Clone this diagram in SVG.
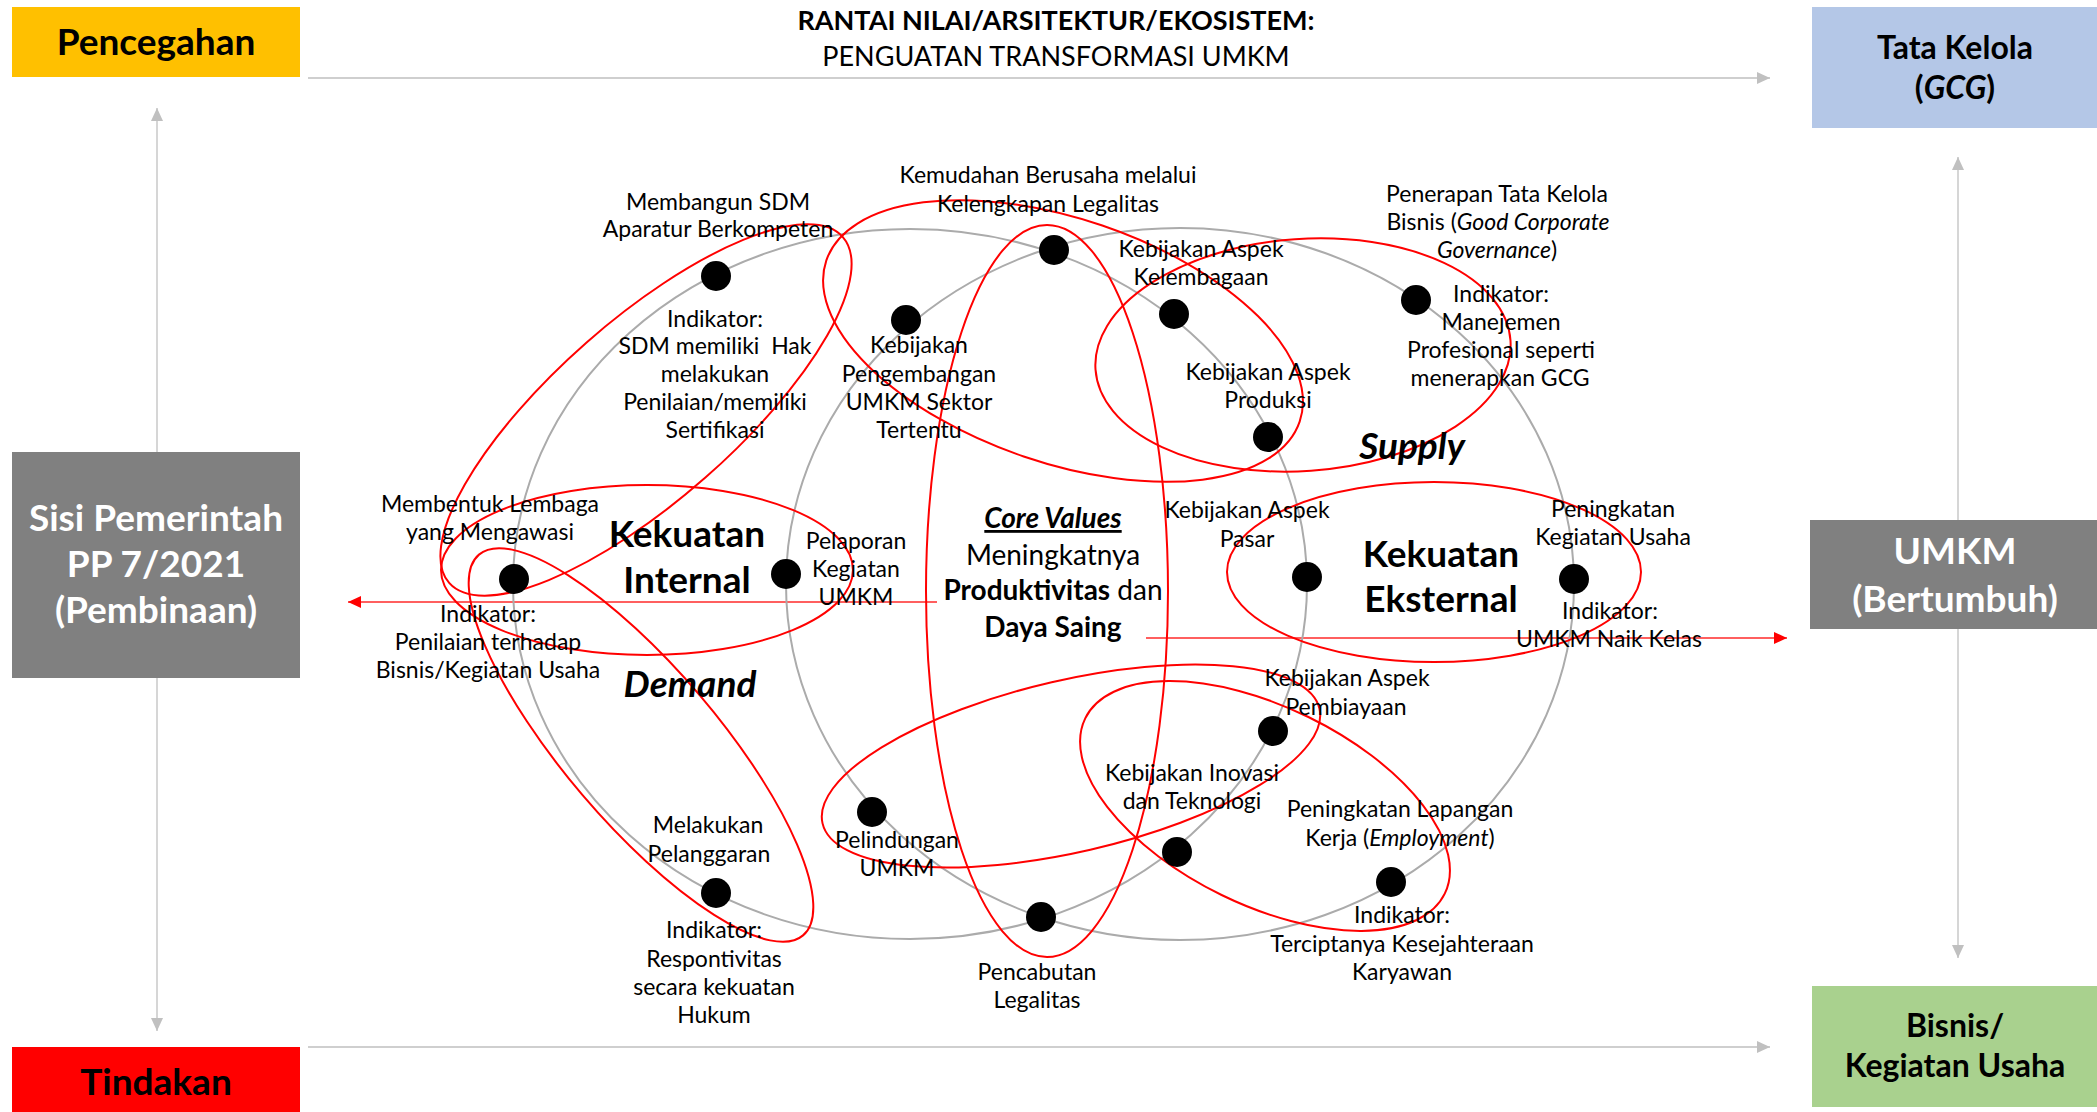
<svg xmlns="http://www.w3.org/2000/svg" width="2097" height="1112" viewBox="0 0 2097 1112">
<defs>
<style>
.t{font-family:Lato,"Liberation Sans",sans-serif;font-size:23px;fill:#000;text-anchor:middle}
.bx{font-family:Lato,"Liberation Sans",sans-serif;font-weight:bold;text-anchor:middle}
.w{fill:#fff}
.k{fill:#000}
.b{font-weight:bold}
.i{font-style:italic}
.big{font-size:37px;font-weight:bold}
.cv{font-size:28px}
.dot{fill:#000}
.ring{fill:none;stroke:#ABABAB;stroke-width:2}
.red{fill:none;stroke:#FF0000;stroke-width:2}
.gl{fill:none;stroke:#CFCFCF;stroke-width:2}
.gv{fill:none;stroke:#C8C8C8;stroke-width:1.5}
.rl{fill:none;stroke:#FF2A2A;stroke-width:1.5}
</style>
<marker id="ga" markerUnits="userSpaceOnUse" markerWidth="14" markerHeight="12" refX="13" refY="6" orient="auto-start-reverse"><path d="M0,0 L13,6 L0,12 z" fill="#C0C0C0"/></marker>
<marker id="ra" markerUnits="userSpaceOnUse" markerWidth="14" markerHeight="12" refX="13" refY="6" orient="auto"><path d="M0,0 L13,6 L0,12 z" fill="#FF0000"/></marker>
</defs>
<rect width="2097" height="1112" fill="#fff"/>

<g id="connectors">
<path class="gl" d="M308,78 H1770" marker-end="url(#ga)"/>
<path class="gl" d="M308,1047 H1770" marker-end="url(#ga)"/>
<path class="gv" d="M157,1031 V108" marker-start="url(#ga)" marker-end="url(#ga)"/>
<path class="gv" d="M1958,958 V157" marker-start="url(#ga)" marker-end="url(#ga)"/>
<path class="rl" d="M937,602 H348" marker-end="url(#ra)"/>
<path class="rl" d="M1146,638 H1787" marker-end="url(#ra)"/>
</g>

<g id="rings">
<ellipse class="ring" cx="910" cy="584" rx="397" ry="355"/>
<ellipse class="ring" cx="1180" cy="584" rx="394" ry="356"/>
</g>

<g id="clusters">
<ellipse class="red" cx="0" cy="0" rx="262" ry="90" transform="translate(646,410) rotate(-41.3)"/>
<ellipse class="red" cx="647" cy="570" rx="206" ry="85"/>
<ellipse class="red" cx="0" cy="0" rx="250" ry="77" transform="translate(641,745) rotate(49.6)"/>
<ellipse class="red" cx="0" cy="0" rx="250" ry="122" transform="translate(1063,341) rotate(18.8)"/>
<ellipse class="red" cx="1047" cy="591" rx="121" ry="366"/>
<ellipse class="red" cx="0" cy="0" rx="208" ry="116" transform="translate(1303,355) rotate(-4)"/>
<ellipse class="red" cx="0" cy="0" rx="255" ry="86" transform="translate(1071,766) rotate(-13)"/>
<ellipse class="red" cx="0" cy="0" rx="200" ry="99" transform="translate(1265,806) rotate(26)"/>
<ellipse class="red" cx="1434" cy="572" rx="207" ry="90"/>
</g>

<g id="title">
<text class="t b" x="1056" y="30" style="font-size:27px">RANTAI NILAI/ARSITEKTUR/EKOSISTEM:</text>
<text class="t" x="1056" y="66" style="font-size:27px">PENGUATAN TRANSFORMASI UMKM</text>
</g>

<g id="box-pencegahan"><rect x="12" y="7" width="288" height="70" fill="#FFC000"/><text class="bx k" x="156" y="55" font-size="37">Pencegahan</text></g>
<g id="box-tatakelola"><rect x="1812" y="7" width="285" height="121" fill="#B4C7E7"/><text class="bx k" x="1955" y="59" font-size="32">Tata Kelola</text><text class="bx k" x="1955" y="99" font-size="32">(<tspan class="i">GCG</tspan>)</text></g>
<g id="box-sisi"><rect x="12" y="452" width="288" height="226" fill="#808080"/><text class="bx w" x="156" y="531" font-size="37">Sisi Pemerintah</text><text class="bx w" x="156" y="577" font-size="37">PP 7/2021</text><text class="bx w" x="156" y="623" font-size="37">(Pembinaan)</text></g>
<g id="box-umkm"><rect x="1810" y="520" width="287" height="109" fill="#808080"/><text class="bx w" x="1955" y="564" font-size="37">UMKM</text><text class="bx w" x="1955" y="612" font-size="37">(Bertumbuh)</text></g>
<g id="box-tindakan"><rect x="12" y="1047" width="288" height="65" fill="#FF0000"/><text class="bx k" x="156" y="1095" font-size="37">Tindakan</text></g>
<g id="box-bisnis"><rect x="1812" y="986" width="285" height="121" fill="#A9D18E"/><text class="bx k" x="1955" y="1037" font-size="32">Bisnis/</text><text class="bx k" x="1955" y="1077" font-size="32">Kegiatan Usaha</text></g>

<g id="labels">
<text class="t big" x="687" y="547">Kekuatan</text>
<text class="t big" x="687" y="593">Internal</text>
<text class="t big i" x="690" y="697">Demand</text>
<text class="t big i" x="1412" y="459">Supply</text>
<text class="t big" x="1441" y="567">Kekuatan</text>
<text class="t big" x="1441" y="612">Eksternal</text>
</g>

<g id="core-values">
<text class="t cv b i" x="1053" y="528" text-decoration="underline">Core Values</text>
<text class="t cv" x="1053" y="565">Meningkatnya</text>
<text class="t cv" x="1053" y="600"><tspan class="b">Produktivitas</tspan> dan</text>
<text class="t cv b" x="1053" y="637">Daya Saing</text>
</g>

<g id="n-sdm"><circle class="dot" cx="716" cy="276" r="15"/>
<text class="t" x="718" y="210">Membangun SDM</text><text class="t" x="718" y="237">Aparatur Berkompeten</text>
<text class="t" x="715" y="327">Indikator:</text><text class="t" x="715" y="354" xml:space="preserve">SDM memiliki  Hak</text><text class="t" x="715" y="382">melakukan</text><text class="t" x="715" y="410">Penilaian/memiliki</text><text class="t" x="715" y="438">Sertifikasi</text></g>

<g id="n-kemudahan"><circle class="dot" cx="1054" cy="250" r="15"/>
<text class="t" x="1048" y="183">Kemudahan Berusaha melalui</text><text class="t" x="1048" y="212">Kelengkapan Legalitas</text></g>

<g id="n-pengembangan"><circle class="dot" cx="906" cy="320" r="15"/>
<text class="t" x="919" y="353">Kebijakan</text><text class="t" x="919" y="382">Pengembangan</text><text class="t" x="919" y="410">UMKM Sektor</text><text class="t" x="919" y="438">Tertentu</text></g>

<g id="n-kelembagaan"><circle class="dot" cx="1174" cy="314" r="15"/>
<text class="t" x="1201" y="257">Kebijakan Aspek</text><text class="t" x="1201" y="285">Kelembagaan</text></g>

<g id="n-produksi"><circle class="dot" cx="1268" cy="437" r="15"/>
<text class="t" x="1268" y="380">Kebijakan Aspek</text><text class="t" x="1268" y="408">Produksi</text></g>

<g id="n-gcg"><circle class="dot" cx="1416" cy="300" r="15"/>
<text class="t" x="1497" y="202">Penerapan Tata Kelola</text><text class="t" x="1498" y="230">Bisnis (<tspan class="i">Good Corporate</tspan></text><text class="t" x="1497" y="258"><tspan class="i">Governance</tspan>)</text>
<text class="t" x="1501" y="302">Indikator:</text><text class="t" x="1501" y="330">Manejemen</text><text class="t" x="1501" y="358">Profesional seperti</text><text class="t" x="1500" y="386">menerapkan GCG</text></g>

<g id="n-lembaga"><circle class="dot" cx="514" cy="579" r="15"/>
<text class="t" x="490" y="512">Membentuk Lembaga</text><text class="t" x="490" y="540">yang Mengawasi</text>
<text class="t" x="488" y="622">Indikator:</text><text class="t" x="488" y="650">Penilaian terhadap</text><text class="t" x="488" y="678">Bisnis/Kegiatan Usaha</text></g>

<g id="n-pelaporan"><circle class="dot" cx="786" cy="574" r="15"/>
<text class="t" x="856" y="549">Pelaporan</text><text class="t" x="856" y="577">Kegiatan</text><text class="t" x="856" y="605">UMKM</text></g>

<g id="n-pasar"><circle class="dot" cx="1307" cy="577" r="15"/>
<text class="t" x="1247" y="518">Kebijakan Aspek</text><text class="t" x="1247" y="547">Pasar</text></g>

<g id="n-usaha"><circle class="dot" cx="1574" cy="579" r="15"/>
<text class="t" x="1613" y="517">Peningkatan</text><text class="t" x="1613" y="545">Kegiatan Usaha</text>
<text class="t" x="1610" y="619">Indikator:</text><text class="t" x="1609" y="647">UMKM Naik Kelas</text></g>

<g id="n-pembiayaan"><circle class="dot" cx="1273" cy="731" r="15"/>
<text class="t" x="1347" y="686">Kebijakan Aspek</text><text class="t" x="1346" y="715">Pembiayaan</text></g>

<g id="n-inovasi"><circle class="dot" cx="1177" cy="852" r="15"/>
<text class="t" x="1192" y="781">Kebijakan Inovasi</text><text class="t" x="1192" y="809">dan Teknologi</text></g>

<g id="n-lapangan"><circle class="dot" cx="1391" cy="882" r="15"/>
<text class="t" x="1400" y="817">Peningkatan Lapangan</text><text class="t" x="1400" y="846">Kerja (<tspan class="i">Employment</tspan>)</text>
<text class="t" x="1402" y="923">Indikator:</text><text class="t" x="1402" y="952">Terciptanya Kesejahteraan</text><text class="t" x="1402" y="980">Karyawan</text></g>

<g id="n-pencabutan"><circle class="dot" cx="1041" cy="917" r="15"/>
<text class="t" x="1037" y="980">Pencabutan</text><text class="t" x="1037" y="1008">Legalitas</text></g>

<g id="n-pelindungan"><circle class="dot" cx="872" cy="812" r="15"/>
<text class="t" x="897" y="848">Pelindungan</text><text class="t" x="897" y="876">UMKM</text></g>

<g id="n-pelanggaran"><circle class="dot" cx="716" cy="893" r="15"/>
<text class="t" x="708" y="833">Melakukan</text><text class="t" x="709" y="862">Pelanggaran</text>
<text class="t" x="714" y="938">Indikator:</text><text class="t" x="714" y="967">Respontivitas</text><text class="t" x="714" y="995">secara kekuatan</text><text class="t" x="714" y="1023">Hukum</text></g>
</svg>
